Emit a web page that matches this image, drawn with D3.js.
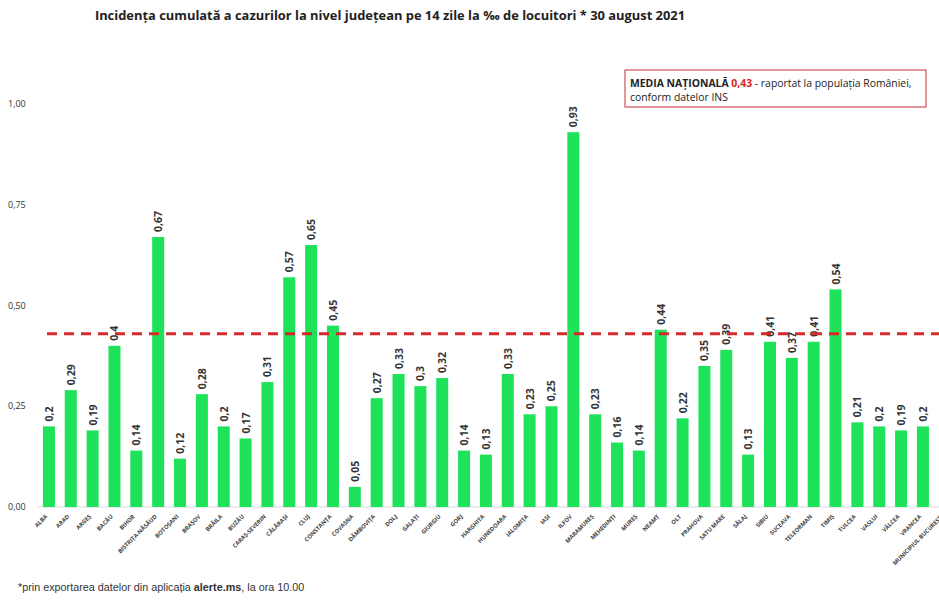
<!DOCTYPE html>
<html>
<head>
<meta charset="utf-8">
<script src="https://cdn.jsdelivr.net/npm/d3@7"></script>
<style>
  body { margin: 0; background: #fff; }
  svg { display: block; }
</style>
</head>
<body>
<svg id="chart" width="939" height="600"></svg>
<script>
// judete + Bucuresti (ultima bara iese din cadru)
const judete = ["ALBA", "ARAD", "ARGEȘ", "BACĂU", "BIHOR", "BISTRIȚA-NĂSĂUD", "BOTOȘANI", "BRAȘOV",
  "BRĂILA", "BUZĂU", "CARAȘ-SEVERIN", "CĂLĂRAȘI", "CLUJ", "CONSTANȚA", "COVASNA", "DÂMBOVIȚA",
  "DOLJ", "GALAȚI", "GIURGIU", "GORJ", "HARGHITA", "HUNEDOARA", "IALOMIȚA", "IAȘI", "ILFOV",
  "MARAMUREȘ", "MEHEDINȚI", "MUREȘ", "NEAMȚ", "OLT", "PRAHOVA", "SATU MARE", "SĂLAJ", "SIBIU",
  "SUCEAVA", "TELEORMAN", "TIMIȘ", "TULCEA", "VASLUI", "VÂLCEA", "VRANCEA", "MUNICIPIUL BUCUREȘTI"];
const incidenta = [0.2, 0.29, 0.19, 0.4, 0.14, 0.67, 0.12, 0.28, 0.2, 0.17, 0.31, 0.57, 0.65, 0.45,
  0.05, 0.27, 0.33, 0.3, 0.32, 0.14, 0.13, 0.33, 0.23, 0.25, 0.93, 0.23, 0.16, 0.14, 0.44, 0.22,
  0.35, 0.39, 0.13, 0.41, 0.37, 0.41, 0.54, 0.21, 0.2, 0.19, 0.2, null];
const yTicks = [0, 0.25, 0.5, 0.75, 1];
const mediaNationala = 0.43;

const svg = d3.select("#chart");
const fmt = v => d3.format(".2f")(v).replace(".", ",");
const fmtVal = v => String(v).replace(".", ",");

const x = d3.scaleBand()
  .domain(judete)
  .range([38, 38 + judete.length * 21.85])
  .paddingInner(0.45)
  .paddingOuter(0.225);

const y = d3.scaleLinear().domain([0, 1]).range([507, 104]);

// title
svg.append("text")
  .attr("x", 390).attr("y", 20)
  .attr("text-anchor", "middle")
  .style("font-family", "'Open Sans', sans-serif")
  .style("font-size", "12.9px").style("font-weight", "bold").attr("fill", "#222")
  .text("Incidența cumulată a cazurilor la nivel județean pe 14 zile la ‰ de locuitori * 30 august 2021");

// y axis labels
svg.append("g").selectAll("text")
  .data(yTicks).join("text")
  .attr("x", 8).attr("y", d => y(d) + 3)
  .style("font-family", "'Open Sans', sans-serif")
  .style("font-size", "9px").attr("fill", "#333")
  .text(fmt);

// baseline
svg.append("line")
  .attr("x1", 38).attr("x2", 939)
  .attr("y1", y(0)).attr("y2", y(0))
  .attr("stroke", "#d9d9d9").attr("stroke-width", 1);

const data = judete.map((j, i) => ({ j, v: incidenta[i] })).filter(d => d.v != null);

svg.append("g").selectAll("rect")
  .data(data).join("rect")
  .attr("x", d => x(d.j))
  .attr("y", d => y(d.v))
  .attr("width", x.bandwidth())
  .attr("height", d => y(0) - y(d.v))
  .attr("fill", "#1ee35a");

// value labels
svg.append("g").selectAll("text")
  .data(data).join("text")
  .attr("transform", d => `translate(${x(d.j) + x.bandwidth() / 2 + 4},${y(d.v) - 5}) rotate(-90)`)
  .style("font-family", "'Open Sans', sans-serif")
  .style("font-size", "10.5px").style("font-weight", "bold").attr("fill", "#333")
  .text(d => fmtVal(d.v));

// x labels
svg.append("g").selectAll("text")
  .data(judete).join("text")
  .attr("transform", d => `translate(${x(d) + x.bandwidth() / 2 - 1},${y(0) + 10}) rotate(-45)`)
  .attr("text-anchor", "end")
  .style("font-family", "'Open Sans', sans-serif")
  .style("font-size", "5.8px").style("font-weight", "bold").attr("fill", "#444")
  .text(d => d);

// media nationala
svg.append("line")
  .attr("x1", 47).attr("x2", 939)
  .attr("y1", y(mediaNationala)).attr("y2", y(mediaNationala))
  .attr("stroke", "#d42a2a").attr("stroke-width", 3)
  .attr("stroke-dasharray", "10,7");

// legend box
const lg = svg.append("g");
lg.append("rect")
  .attr("x", 625).attr("y", 70).attr("width", 301).attr("height", 37)
  .attr("fill", "#fff").attr("stroke", "#d0505a").attr("stroke-width", 1.2);
const t1 = lg.append("text").attr("x", 630).attr("y", 87)
  .style("font-family", "'Open Sans', sans-serif").style("font-size", "10.4px").attr("fill", "#222");
t1.append("tspan").style("font-weight", "bold").text("MEDIA NAȚIONALĂ ");
t1.append("tspan").style("font-weight", "bold").attr("fill", "#e02020").text(fmt(mediaNationala));
t1.append("tspan").text(" - raportat la populația României,");
lg.append("text").attr("x", 630).attr("y", 101)
  .style("font-family", "'Open Sans', sans-serif").style("font-size", "10.4px").attr("fill", "#222")
  .text("conform datelor INS");

// footnote
const fn = svg.append("text").attr("x", 18).attr("y", 591)
  .style("font-family", "'Liberation Sans', Arial, sans-serif").style("font-size", "10.8px").attr("fill", "#333");
fn.append("tspan").text("*prin exportarea datelor din aplicația ");
fn.append("tspan").style("font-weight", "bold").text("alerte.ms");
fn.append("tspan").text(", la ora 10.00");
</script>
</body>
</html>
